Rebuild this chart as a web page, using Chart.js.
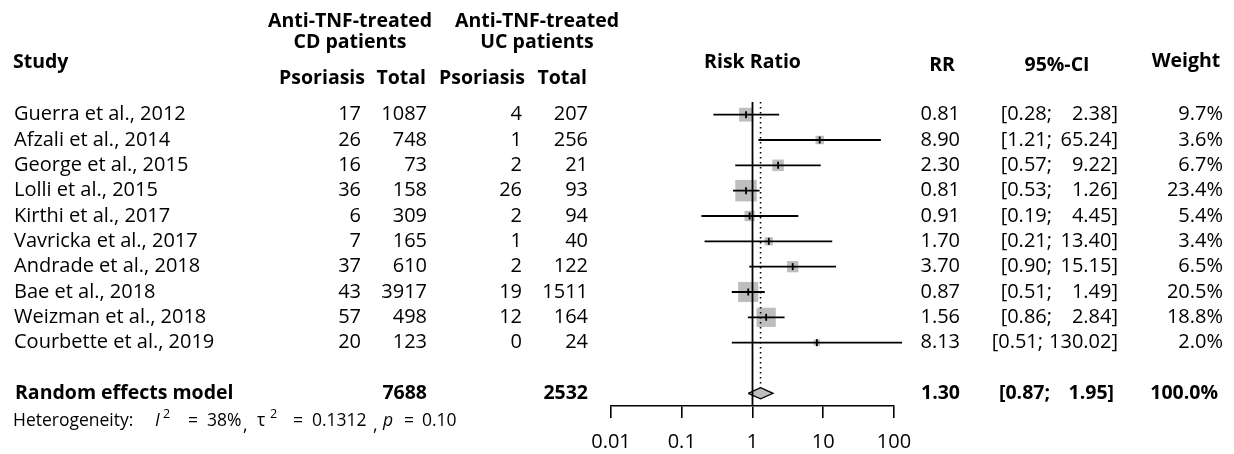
<!DOCTYPE html>
<html>
<head>
<meta charset="utf-8">
<script src="https://cdn.jsdelivr.net/npm/chart.js@4.4.0/dist/chart.umd.min.js"></script>
<style>
  html, body { margin: 0; padding: 0; background: #fff; }
  #wrap { width: 1234px; height: 454px; }
</style>
</head>
<body>
<div id="wrap"><canvas id="forest" width="1234" height="454"></canvas></div>
<script>
// study rows
const studies = ['Guerra et al., 2012', 'Afzali et al., 2014', 'George et al., 2015', 'Lolli et al., 2015',
  'Kirthi et al., 2017', 'Vavricka et al., 2017', 'Andrade et al., 2018', 'Bae et al., 2018',
  'Weizman et al., 2018', 'Courbette et al., 2019'];
const cdPsoriasis = [17, 26, 16, 36, 6, 7, 37, 43, 57, 20];
const cdTotal = [1087, 748, 73, 158, 309, 165, 610, 3917, 498, 123];
const ucPsoriasis = [4, 1, 2, 26, 2, 1, 2, 19, 12, 0];
const ucTotal = [207, 256, 21, 93, 94, 40, 122, 1511, 164, 24];
const rr = [0.81, 8.90, 2.30, 0.81, 0.91, 1.70, 3.70, 0.87, 1.56, 8.13];
const ciLow = [0.28, 1.21, 0.57, 0.53, 0.19, 0.21, 0.90, 0.51, 0.86, 0.51];
const ciHigh = [2.38, 65.24, 9.22, 1.26, 4.45, 13.40, 15.15, 1.49, 2.84, 130.02];
const weights = [9.7, 3.6, 6.7, 23.4, 5.4, 3.4, 6.5, 20.5, 18.8, 2.0];

// pooled estimate
const pooledLabel = 'Random effects model';
const pooledRR = 1.30;
const pooledLow = 0.87;
const pooledHigh = 1.95;
const pooledCdTotal = 7688;
const pooledUcTotal = 2532;
const pooledWeight = 100.0;
const hetI2 = '38%';
const hetTau2 = '0.1312';
const hetP = '0.10';

const xTicks = [0.01, 0.1, 1, 10, 100];

const pooledRow = studies.length + 1;
const diamondHalf = 0.22;
const maxSide = 21.5;
const maxWeight = Math.max(...weights);

const FONT = '"Open Sans", sans-serif';
const GREY = '#BEBEBE';

const squareData = rr.map((v, i) => ({x: v, y: i}));
const squareRadius = weights.map(w => maxSide * Math.sqrt(w / maxWeight) / Math.SQRT2);

const ciData = [];
ciLow.forEach((lo, i) => {
  ciData.push({x: lo, y: i}, {x: ciHigh[i], y: i}, {x: null, y: null});
});

const diamondData = [
  {x: pooledLow, y: pooledRow},
  {x: pooledRR, y: pooledRow - diamondHalf},
  {x: pooledHigh, y: pooledRow},
  {x: pooledRR, y: pooledRow + diamondHalf},
  {x: pooledLow, y: pooledRow}
];

const tablePlugin = {
  id: 'forestTable',
  afterDraw(chart) {
    const ctx = chart.ctx;
    const ys = chart.scales.y;
    const xs = chart.scales.x;
    const reg = '20px ' + FONT;
    const bold = 'bold 19.5px ' + FONT;
    ctx.save();
    ctx.fillStyle = '#000';
    ctx.textBaseline = 'middle';

    function put(str, x, y, align, font) {
      ctx.font = font;
      ctx.textAlign = align;
      ctx.fillText(str, x, y);
    }

    // "[lo;  hi]" with the upper value pushing the lower one left when wide
    function putCI(lo, hi, y, font, loRight, hiRight) {
      ctx.font = font;
      const upper = hi.toFixed(2) + ']';
      const upperLeft = hiRight - ctx.measureText(upper).width;
      put(upper, hiRight, y, 'right', font);
      put('[' + lo.toFixed(2) + ';', Math.min(loRight, upperLeft - 6), y, 'right', font);
    }

    // headers
    put('Study', 13, 62, 'left', bold);
    put('Anti-TNF-treated', 350, 21, 'center', bold);
    put('CD patients', 350, 42, 'center', bold);
    put('Anti-TNF-treated', 537, 21, 'center', bold);
    put('UC patients', 537, 42, 'center', bold);
    put('Psoriasis', 365, 78, 'right', bold);
    put('Total', 426, 78, 'right', bold);
    put('Psoriasis', 525, 78, 'right', bold);
    put('Total', 587, 78, 'right', bold);
    put('Risk Ratio', xs.getPixelForValue(1), 62, 'center', bold);
    put('RR', 942, 65, 'center', bold);
    put('95%-CI', 1057, 65, 'center', bold);
    put('Weight', 1186, 61, 'center', bold);

    // study rows
    studies.forEach((s, i) => {
      const y = ys.getPixelForValue(i);
      put(s, 14, y, 'left', reg);
      put(String(cdPsoriasis[i]), 361, y, 'right', reg);
      put(String(cdTotal[i]), 427, y, 'right', reg);
      put(String(ucPsoriasis[i]), 522, y, 'right', reg);
      put(String(ucTotal[i]), 588, y, 'right', reg);
      put(rr[i].toFixed(2), 960, y, 'right', reg);
      putCI(ciLow[i], ciHigh[i], y, reg, 1052, 1118);
      put(weights[i].toFixed(1) + '%', 1223, y, 'right', reg);
    });

    // pooled row
    const py = ys.getPixelForValue(pooledRow);
    put(pooledLabel, 15, py, 'left', bold);
    put(String(pooledCdTotal), 427, py, 'right', bold);
    put(String(pooledUcTotal), 588, py, 'right', bold);
    put(pooledRR.toFixed(2), 960, py, 'right', bold);
    putCI(pooledLow, pooledHigh, py, bold, 1050, 1114);
    put(pooledWeight.toFixed(1) + '%', 1218, py, 'right', bold);

    // heterogeneity
    const hy = 421;
    const small = '17.5px ' + FONT;
    const ital = 'italic 17.5px ' + FONT;
    const sup = '12.5px ' + FONT;
    put('Heterogeneity:', 13, hy, 'left', small);
    put('I', 155, hy, 'left', ital);
    put('2', 163, hy - 7, 'left', sup);
    put('=', 188, hy, 'left', small);
    put(hetI2, 207, hy, 'left', small);
    put(',', 243, hy + 5, 'left', small);
    put('\u03c4', 257, hy, 'left', small);
    put('2', 270, hy - 7, 'left', sup);
    put('=', 293, hy, 'left', small);
    put(hetTau2, 312, hy, 'left', small);
    put(',', 373, hy + 5, 'left', small);
    put('p', 383, hy, 'left', ital);
    put('=', 404, hy, 'left', small);
    put(hetP, 422, hy, 'left', small);

    // x tick labels
    xTicks.forEach(v => {
      put(String(v), xs.getPixelForValue(v), 442, 'center', reg);
    });
    ctx.restore();
  }
};

new Chart(document.getElementById('forest'), {
  type: 'scatter',
  data: {
    datasets: [
      {
        type: 'scatter',
        data: squareData,
        pointStyle: 'rect',
        pointRadius: squareRadius,
        backgroundColor: GREY,
        borderWidth: 0,
        order: 10
      },
      {
        type: 'line',
        data: ciData,
        borderColor: '#000',
        borderWidth: 1.8,
        pointRadius: 0,
        spanGaps: false,
        fill: false,
        clip: false,
        order: 5
      },
      {
        type: 'scatter',
        data: squareData,
        pointStyle: 'line',
        rotation: 90,
        pointRadius: 3.5,
        borderColor: '#000',
        borderWidth: 1.8,
        order: 4
      },
      {
        type: 'line',
        data: diamondData,
        fill: 'shape',
        backgroundColor: GREY,
        borderColor: '#000',
        borderWidth: 1.3,
        borderJoinStyle: 'miter',
        pointRadius: 0,
        order: 3
      },
      {
        type: 'line',
        data: [{x: 1, y: -0.5}, {x: 1, y: pooledRow + 0.5}],
        borderColor: '#000',
        borderWidth: 1.8,
        pointRadius: 0,
        order: 2
      },
      {
        type: 'line',
        data: [{x: pooledRR, y: -0.5}, {x: pooledRR, y: pooledRow - diamondHalf}],
        borderColor: '#000',
        borderWidth: 1.6,
        borderDash: [1.6, 3.4],
        pointRadius: 0,
        order: 1
      }
    ]
  },
  options: {
    responsive: false,
    animation: false,
    events: [],
    layout: { padding: { left: 611, right: 340, top: 102, bottom: 36 } },
    plugins: { legend: { display: false }, tooltip: { enabled: false } },
    scales: {
      x: {
        type: 'logarithmic',
        min: 0.01,
        max: 100,
        position: 'bottom',
        afterBuildTicks: (scale) => { scale.ticks = xTicks.map(v => ({value: v})); },
        grid: { drawOnChartArea: false, drawTicks: true, tickLength: 12, color: '#000', lineWidth: 1.6 },
        border: { display: true, color: '#000', width: 1.6 },
        ticks: { display: false }
      },
      y: {
        type: 'linear',
        min: -0.5,
        max: pooledRow + 0.5,
        reverse: true,
        display: false
      }
    }
  },
  plugins: [tablePlugin]
});
</script>
</body>
</html>
